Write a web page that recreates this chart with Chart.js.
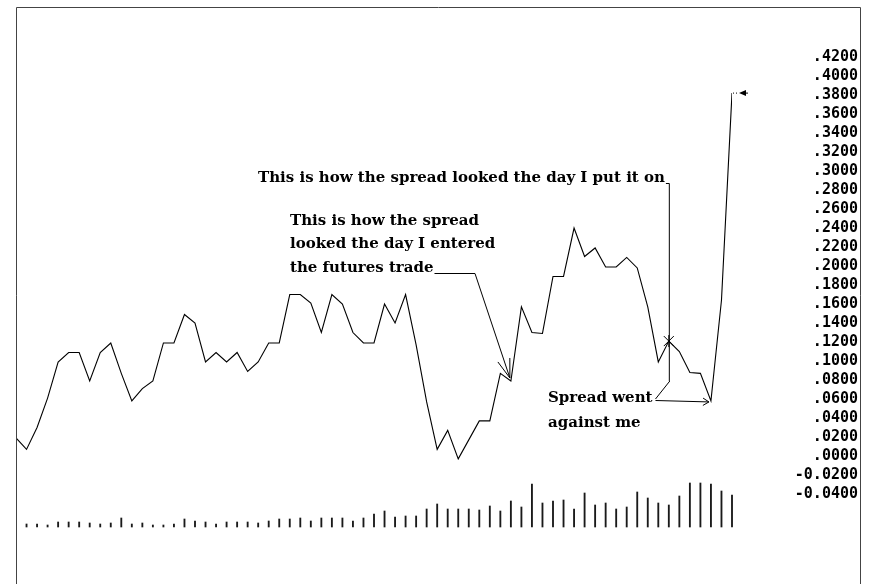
<!DOCTYPE html>
<html><head><meta charset="utf-8">
<script src="https://cdn.jsdelivr.net/npm/chart.js@4.4.1/dist/chart.umd.min.js"></script>
<style>html,body{margin:0;padding:0;background:#fff}</style>
</head><body>
<canvas id="c" width="872" height="584"></canvas>
<script>
// ---- data ----
const days = Array.from({length: 69}, (_, i) => i);   // trading-day index
const spread = [0.019,0.007,0.030,0.061,0.099,0.109,0.109,0.079,0.109,0.119,
  0.087,0.058,0.071,0.079,0.119,0.119,0.149,0.140,0.099,0.109,
  0.099,0.109,0.089,0.099,0.119,0.119,0.170,0.170,0.161,0.130,
  0.170,0.160,0.130,0.119,0.119,0.160,0.140,0.170,0.117,0.057,
  0.007,0.027,-0.003,0.017,0.037,0.037,0.087,0.079,0.157,0.130,
  0.129,0.189,0.189,0.240,0.210,0.219,0.199,0.199,0.209,0.198,
  0.157,0.099,0.121,0.110,0.088,0.087,0.058,0.164,0.382];
const volume = [null,3,3,2,5,5,5,4,3,4,9,3,4,2,2,3,8,6,5,3,5,5,5,4,6,8,
  8,9,6,9,9,9,6,9,13,16,10,11,11,18,23,18,18,18,17,21,16,26,20,43,24,26,27,18,34,22,
  24,18,20,35,29,24,22,31,44,44,43,36,32];
const tickValues = [-0.04,-0.02,0,0.02,0.04,0.06,0.08,0.10,0.12,0.14,0.16,0.18,0.20,
  0.22,0.24,0.26,0.28,0.30,0.32,0.34,0.36,0.38,0.40,0.42];
const noteTop = "This is how the spread looked the day I put it on";
const noteEntry = ["This is how the spread", "looked the day I entered", "the futures trade"];
const noteAgainst = ["Spread went", "against me"];
const entryIdx = 47, putOnIdx = 62, lowIdx = 66, lastIdx = 68;

function fmt(v){ const s = Math.abs(v).toFixed(4); return v < -1e-9 ? '-' + s : s.slice(1); }

const deco = {
  id: 'deco',
  afterDraw(chart){
    const c = chart.ctx, xs = chart.scales.x, ys = chart.scales.y;
    const px = i => xs.getPixelForValue(days[i]);
    const py = i => ys.getPixelForValue(spread[i]);
    c.save();
    c.lineWidth = 1; c.strokeStyle = '#000'; c.fillStyle = '#000';
    const line = (x1,y1,x2,y2) => { c.beginPath(); c.moveTo(x1,y1); c.lineTo(x2,y2); c.stroke(); };
    const arrow = (x1,y1,x2,y2,len,ang) => {
      line(x1,y1,x2,y2);
      const a = Math.atan2(y2-y1, x2-x1);
      line(x2,y2,x2-len*Math.cos(a-ang),y2-len*Math.sin(a-ang));
      line(x2,y2,x2-len*Math.cos(a+ang),y2-len*Math.sin(a+ang));
    };
    // frame
    c.strokeStyle = '#444';
    line(16.5,7.5,860.5,7.5); line(16.5,7.5,16.5,584); line(860.5,7.5,860.5,584);
    c.strokeStyle = '#000';
    // text font fitted to width
    c.font = 'bold 14px "DejaVu Serif"';
    const fs = 14 * 407 / c.measureText(noteTop).width;
    c.font = 'bold ' + fs.toFixed(2) + 'px "DejaVu Serif"';
    c.textBaseline = 'middle'; c.textAlign = 'left';
    // top note
    c.fillText(noteTop, 258, 178);
    const t1end = 258 + c.measureText(noteTop).width;
    const sx = px(putOnIdx), sy = py(putOnIdx);
    line(t1end + 1, 183.5, sx + 0.5, 183.5);
    line(sx + 0.5, 183.5, sx + 0.5, 381);
    // star
    for (const [dx,dy] of [[-5,-5],[5,-5],[-5,5],[5,5],[0,-6],[0,6]]) line(sx, sy, sx+dx, sy+dy);
    // entry note
    noteEntry.forEach((t,k) => c.fillText(t, 290, 221 + k*23.5));
    const t2end = 290 + c.measureText(noteEntry[2]).width;
    line(t2end + 1, 273.5, 475, 273.5);
    arrow(475, 273.5, px(entryIdx) - 1, py(entryIdx) - 3, 20, 0.32);
    // against note
    noteAgainst.forEach((t,k) => c.fillText(t, 548, 398 + k*25.5));
    const t3end = 548 + c.measureText(noteAgainst[0]).width;
    line(t3end + 3, 399, sx + 1, 381);
    arrow(t3end + 3, 400.5, px(lowIdx) - 2, py(lowIdx) + 1, 7, 0.55);
    // last point marker
    const lx = px(lastIdx), ly = py(lastIdx);
    c.setLineDash([1,2]); line(lx+1, ly, lx+6, ly); c.setLineDash([]);
    c.beginPath(); c.moveTo(lx+7, ly); c.lineTo(lx+14, ly-3); c.lineTo(lx+14, ly+3); c.closePath(); c.fill();
    line(lx+12, ly, lx+16, ly);
    c.restore();
  }
};

new Chart(document.getElementById('c').getContext('2d'), {
  type: 'line',
  data: { datasets: [
    { type: 'line', data: spread.map((v,i) => ({x: days[i], y: v})), yAxisID: 'y',
      borderColor: '#000', borderWidth: 1.1, pointRadius: 0, tension: 0, order: 1 },
    { type: 'bar', data: volume.map((v,i) => ({x: days[i], y: v})), yAxisID: 'yv',
      backgroundColor: '#1a1a1a', barThickness: 1.2, clip: false, order: 2 }
  ]},
  options: {
    responsive: false, animation: false, devicePixelRatio: 1,
    layout: { padding: { left: 16, top: 57, right: 14, bottom: 57 } },
    plugins: { legend: { display: false }, tooltip: { enabled: false } },
    scales: {
      x: { type: 'linear', min: 0, max: 68, display: false, offset: false },
      y: { position: 'right', min: -0.0747, max: 0.42,
        grid: { display: false }, border: { display: false },
        afterFit(s){ s.width = 126; },
        afterBuildTicks(s){ s.ticks = tickValues.map(v => ({ value: v })); },
        ticks: { crossAlign: 'far', padding: 0, color: '#000', autoSkip: false,
          font: { family: '"DejaVu Sans Mono"', size: 15, weight: 'bold' },
          callback: v => fmt(v) } },
      yv: { display: false, min: 0, max: 470 }
    }
  },
  plugins: [deco]
});
</script>
</body></html>
